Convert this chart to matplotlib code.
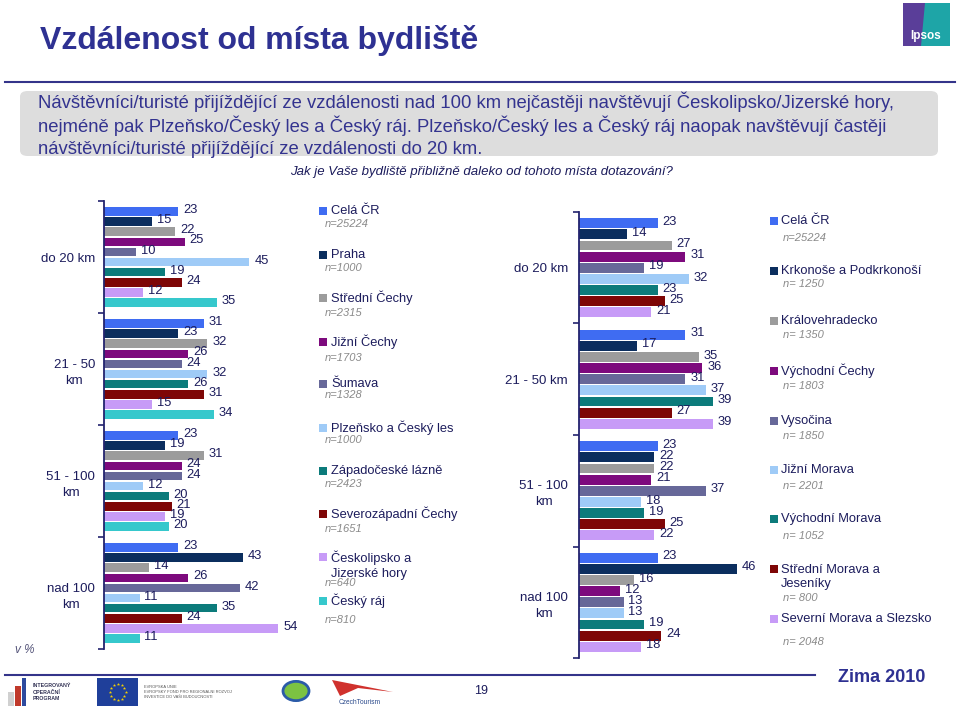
import matplotlib
matplotlib.use('Agg')
import matplotlib.pyplot as plt
from matplotlib.patches import FancyBboxPatch, Rectangle, Circle, Polygon
import numpy as np

W, H = 960, 711
plt.rcParams['font.family'] = ['Liberation Sans', 'DejaVu Sans']

# ---------------- data ----------------
left_categories = ['do 20 km', '21 - 50\nkm', '51 - 100\nkm', 'nad 100\nkm']
right_categories = ['do 20 km', '21 - 50 km', '51 - 100\nkm', 'nad 100\nkm']

left_regions = ['Celá ČR', 'Praha', 'Střední Čechy', 'Jižní Čechy', 'Šumava',
                'Plzeňsko a Český les', 'Západočeské lázně', 'Severozápadní Čechy',
                'Českolipsko a\nJizerské hory', 'Český ráj']
left_n = ['n=25224', 'n=1000', 'n=2315', 'n=1703', 'n=1328', 'n=1000',
          'n=2423', 'n=1651', 'n=640', 'n=810']
left_do20 = [23, 15, 22, 25, 10, 45, 19, 24, 12, 35]
left_21_50 = [31, 23, 32, 26, 24, 32, 26, 31, 15, 34]
left_51_100 = [23, 19, 31, 24, 24, 12, 20, 21, 19, 20]
left_nad100 = [23, 43, 14, 26, 42, 11, 35, 24, 54, 11]

right_regions = ['Celá ČR', 'Krkonoše a Podkrkonoší', 'Královehradecko',
                 'Východní Čechy', 'Vysočina', 'Jižní Morava', 'Východní Morava',
                 'Střední Morava a\nJeseníky', 'Severní Morava a Slezsko']
right_n = ['n=25224', 'n= 1250', 'n= 1350', 'n= 1803', 'n= 1850', 'n= 2201',
           'n= 1052', 'n= 800', 'n= 2048']
right_do20 = [23, 14, 27, 31, 19, 32, 23, 25, 21]
right_21_50 = [31, 17, 35, 36, 31, 37, 39, 27, 39]
right_51_100 = [23, 22, 22, 21, 37, 18, 19, 25, 22]
right_nad100 = [23, 46, 16, 12, 13, 13, 19, 24, 18]

colors = ['#3F6CF2', '#0B2E5E', '#9C9C9C', '#7D0A7D', '#676899',
          '#9FCBF7', '#0C7B7B', '#7E0606', '#C79BF7', '#36C8CC']

NAVY = '#1C1C5C'
TITLE_C = '#2E3192'
GRAY_N = '#8A8A8A'


def fx(x):
    return x / W


def fy(y):
    return 1 - y / H


fig = plt.figure(figsize=(9.6, 7.11), dpi=100)

# ---------------- header ----------------
fig.text(fx(40), fy(40), 'Vzdálenost od místa bydliště', fontsize=23, fontweight='bold',
         color=TITLE_C, va='center', ha='left')
fig.add_artist(plt.Line2D([fx(5), fx(955)], [fy(82), fy(82)], color='#34348A', lw=1.5))
box = FancyBboxPatch((fx(20), fy(156)), fx(918), (156 - 91) / H,
                     boxstyle='round,pad=0,rounding_size=0.008', transform=fig.transFigure,
                     facecolor='#DDDDDD', edgecolor='none')
fig.add_artist(box)
sub_lines = ['Návštěvníci/turisté přijíždějící ze vzdálenosti nad 100 km nejčastěji navštěvují Českolipsko/Jizerské hory,',
             'nejméně pak Plzeňsko/Český les a Český ráj. Plzeňsko/Český les a Český ráj naopak navštěvují častěji',
             'návštěvníci/turisté přijíždějící ze vzdálenosti do 20 km.']
for k, line in enumerate(sub_lines):
    fig.text(fx(38), fy(102 + 23.5 * k), line, fontsize=13.3, color='#33338F',
             va='center', ha='left')
fig.text(fx(481), fy(172), 'Jak je Vaše bydliště přibližně daleko od tohoto místa dotazování?',
         fontsize=9.5, style='italic', color=NAVY, ha='center', va='center')

# Ipsos logo
fig.add_artist(Rectangle((fx(903), fy(46)), fx(24), 43 / H, transform=fig.transFigure,
                         facecolor='#5A3E99', edgecolor='none'))
fig.add_artist(Polygon([[fx(925), fy(3)], [fx(950), fy(3)], [fx(950), fy(46)], [fx(921), fy(46)]],
                       closed=True, transform=fig.transFigure, facecolor='#1EA5A7', edgecolor='none'))
fig.text(fx(926), fy(36), 'Ipsos', fontsize=8.5, fontweight='bold', color='white',
         ha='center', va='center')


# ---------------- panels ----------------
def draw_panel(rect_px, groups, cats, xmax, pitch, barh, pad):
    x0, y0, x1, y1 = rect_px
    ax = fig.add_axes([fx(x0), fy(y1), (x1 - x0) / W, (y1 - y0) / H])
    mat = np.array(groups)
    n_series = mat.shape[1]
    base = np.arange(mat.shape[0]) + (1 - pitch * n_series) / 2
    for i in range(n_series):
        ys = base + pitch * (i + 0.5)
        ax.barh(ys, mat[:, i], height=barh, color=colors[i], edgecolor='none')
        for yv, v in zip(ys, mat[:, i]):
            ax.annotate(str(v), (v, yv), xytext=(3.5, 1), textcoords='offset points',
                        fontsize=9.3, color=NAVY, va='center', ha='left')
    ax.set_ylim(len(groups), 0)
    ax.set_xlim(0, xmax)
    ax.set_xticks([])
    ax.set_yticks(np.arange(len(groups) + 1))
    ax.set_yticklabels([])
    ax.set_yticks(np.arange(len(groups)) + 0.5, minor=True)
    ax.set_yticklabels(cats, minor=True, fontsize=9.5, color=NAVY, multialignment='center',
                       linespacing=1.45)
    ax.tick_params(axis='y', which='major', length=4, width=1.2, color='#23236E', direction='out')
    ax.tick_params(axis='y', which='minor', length=0, pad=pad)
    for s in ['top', 'right', 'bottom']:
        ax.spines[s].set_visible(False)
    ax.spines['left'].set_color('#23236E')
    ax.spines['left'].set_linewidth(1.3)
    ax.patch.set_alpha(0)
    return ax


draw_panel((104, 201, 300, 649), [left_do20, left_21_50, left_51_100, left_nad100],
           left_categories, 196 / 3.23, 0.090, 0.078, 6.5)
draw_panel((579, 212, 750, 658), [right_do20, right_21_50, right_51_100, right_nad100],
           right_categories, 171 / 3.43, 0.100, 0.088, 8)

# ---------------- legends ----------------
left_name_y = [211, 255, 298, 342, 384, 428, 471, 514, 565, 601]
left_n_y = [224, 268, 313, 358, 395, 440, 484, 529, 583, 620]
for i, (name, nn) in enumerate(zip(left_regions, left_n)):
    yy = left_name_y[i] if '\n' not in name else 557
    fig.add_artist(Rectangle((fx(319), fy(yy + 4)), 8 / W, 8 / H, transform=fig.transFigure,
                             facecolor=colors[i], edgecolor='none'))
    fig.text(fx(331), fy(left_name_y[i]), name, fontsize=9.3, color=NAVY, ha='left', va='center',
             linespacing=1.3)
    fig.text(fx(325), fy(left_n_y[i]), nn, fontsize=8, style='italic', color=GRAY_N,
             ha='left', va='center')

right_name_y = [221, 271, 321, 371, 421, 470, 519, 577, 619]
right_n_y = [238, 284, 335, 386, 436, 486, 536, 598, 642]
for i, (name, nn) in enumerate(zip(right_regions, right_n)):
    yy = right_name_y[i] if '\n' not in name else 569
    fig.add_artist(Rectangle((fx(770), fy(yy + 4)), 8 / W, 8 / H, transform=fig.transFigure,
                             facecolor=colors[i], edgecolor='none'))
    fig.text(fx(781), fy(right_name_y[i]), name, fontsize=9.3, color=NAVY, ha='left', va='center',
             linespacing=1.3)
    fig.text(fx(783), fy(right_n_y[i]), nn, fontsize=8, style='italic', color=GRAY_N,
             ha='left', va='center')

# ---------------- footer ----------------
fig.text(fx(15), fy(650), 'v %', fontsize=8.5, style='italic', color='#55557A', ha='left', va='center')
fig.add_artist(plt.Line2D([fx(5), fx(815)], [fy(675), fy(675)], color='#34348A', lw=1.5))
fig.text(fx(882), fy(677), 'Zima 2010', fontsize=13, fontweight='bold', color=TITLE_C,
         ha='center', va='center')
fig.text(fx(481), fy(691), '19', fontsize=9, color=NAVY, ha='center', va='center')

# simple logo placeholders
fig.add_artist(Rectangle((fx(8), fy(706)), 6 / W, 14 / H, transform=fig.transFigure,
                         facecolor='#D0D0D0', edgecolor='none'))
fig.add_artist(Rectangle((fx(15), fy(706)), 6 / W, 20 / H, transform=fig.transFigure,
                         facecolor='#C0392B', edgecolor='none'))
fig.add_artist(Rectangle((fx(22), fy(706)), 4 / W, 28 / H, transform=fig.transFigure,
                         facecolor='#2E4A9E', edgecolor='none'))
fig.text(fx(33), fy(692), 'INTEGROVANÝ\nOPERAČNÍ\nPROGRAM', fontsize=3.8, fontweight='bold',
         color='#333355', ha='left', va='center', linespacing=1.3)
fig.add_artist(Rectangle((fx(97), fy(706)), 41 / W, 28 / H, transform=fig.transFigure,
                         facecolor='#1F3F9A', edgecolor='none'))
ang = np.linspace(0, 2 * np.pi, 13)[:-1]
fig.add_artist(plt.Line2D(fx(117.5 + 8 * np.cos(ang)), fy(692 + 8 * np.sin(ang)), ls='none',
                          marker='*', ms=2.5, color='#F5D000', mec='none'))
fig.text(fx(144), fy(692), 'EVROPSKÁ UNIE\nEVROPSKÝ FOND PRO REGIONÁLNÍ ROZVOJ\nINVESTICE DO VAŠÍ BUDOUCNOSTI',
         fontsize=2.9, color='#555555', ha='left', va='center', linespacing=1.5)
fig.add_artist(Circle((fx(296), fy(691)), 13 / W, transform=fig.transFigure,
                      facecolor='#7CC242', edgecolor='#2B5BA8', lw=2))
fig.add_artist(Polygon([[fx(332), fy(680)], [fx(393), fy(692)], [fx(358), fy(688)], [fx(340), fy(696)]],
                       closed=True, transform=fig.transFigure, facecolor='#D0312D', edgecolor='none'))
fig.text(fx(360), fy(702), 'CzechTourism', fontsize=4.8, color='#2B4A8C', ha='center', va='center')

fig.savefig('out.png', dpi=100)
